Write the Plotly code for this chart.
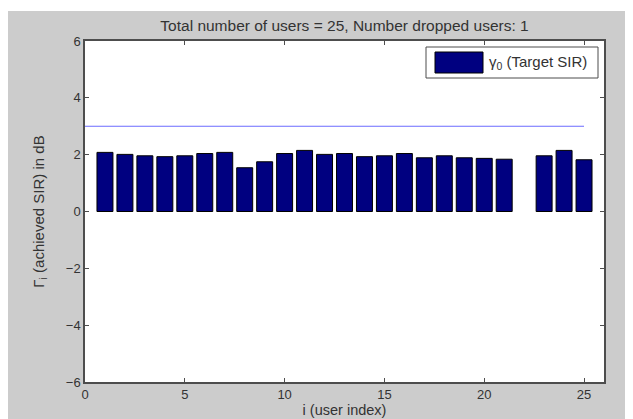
import plotly.graph_objects as go

users = list(range(1, 26))
achieved_sir_db = [2.08, 2.01, 1.96, 1.93, 1.96, 2.04, 2.08, 1.54, 1.75, 2.04,
                   2.15, 2.01, 2.04, 1.93, 1.96, 2.04, 1.89, 1.96, 1.89, 1.87,
                   1.84, None, 1.96, 2.15, 1.82]
target_x = [0, 25]
target_sir_db = [3, 3]
x_ticks = [0, 5, 10, 15, 20, 25]
y_ticks = [-6, -4, -2, 0, 2, 4, 6]
legend_label = "γ<sub>0</sub> (Target SIR)"

# page body has an 8px margin, so the figure sits at (8, 8)
W, H = 625, 411
L, R, T, B = 77, 29, 33, 37
pw, ph = W - L - R, H - T - B
FONT = "Liberation Sans, Arial"
TXT = "#333333"
BAR = "#000080"


def px(xf):
    return (xf - L) / pw


def py(yf):
    return (H - B - yf) / ph


fig = go.Figure()
fig.add_trace(go.Bar(
    x=users, y=achieved_sir_db, width=0.8,
    marker=dict(color=BAR, line=dict(color="#000000", width=1)),
    name=legend_label, showlegend=False,
))
fig.add_trace(go.Scatter(
    x=target_x, y=target_sir_db, mode="lines",
    line=dict(color="#6b6bff", width=1.2), showlegend=False,
))

axis_common = dict(
    showgrid=False, zeroline=False, showline=True, linecolor="#4d4d4d",
    linewidth=1.5, mirror="ticks", ticks="inside", ticklen=4,
    tickcolor="#4d4d4d", tickfont=dict(family=FONT, size=13, color=TXT),
)

# hand-drawn legend box (fig coords of the legend: x 418-590, y 39-70)
shapes = [
    dict(type="rect", xref="paper", yref="paper", layer="below",
         x0=-L / pw - 0.05, x1=(W - L) / pw + 0.05,
         y0=(H - 3 - B) / ph, y1=(H - B) / ph + 0.05,
         fillcolor="white", line=dict(width=0)),
    dict(type="rect", xref="paper", yref="paper", layer="above",
         x0=px(418), x1=px(590), y0=py(70), y1=py(39),
         fillcolor="white", line=dict(color="#4d4d4d", width=1)),
    dict(type="rect", xref="paper", yref="paper", layer="above",
         x0=px(427), x1=px(475), y0=py(65), y1=py(44),
         fillcolor=BAR, line=dict(color="#000000", width=1)),
]
annotations = [
    dict(text=legend_label, xref="paper", yref="paper", x=px(479), y=py(54.5),
         xanchor="left", yanchor="middle", showarrow=False,
         font=dict(family=FONT, size=15, color=TXT)),
]

fig.update_layout(
    width=W, height=H,
    margin=dict(l=L, r=R, t=T, b=B, autoexpand=False),
    paper_bgcolor="#cccccc", plot_bgcolor="white",
    font=dict(family=FONT, color=TXT),
    showlegend=False,
    title=dict(text="Total number of users = 25, Number dropped users: 1",
               x=(L + pw / 2) / W, xanchor="center", y=1 - 18 / H, yanchor="middle",
               font=dict(size=15.5, color=TXT)),
    xaxis=dict(range=[0, 26], tickvals=x_ticks, **axis_common,
               title=dict(text="i (user index)", standoff=2, font=dict(size=14.5))),
    yaxis=dict(range=[-6, 6], tickvals=y_ticks, **axis_common,
               title=dict(text="Γ<sub>i</sub> (achieved SIR) in dB", standoff=18, font=dict(size=15))),
    shapes=shapes,
    annotations=annotations,
)

fig.write_html("out.html")
